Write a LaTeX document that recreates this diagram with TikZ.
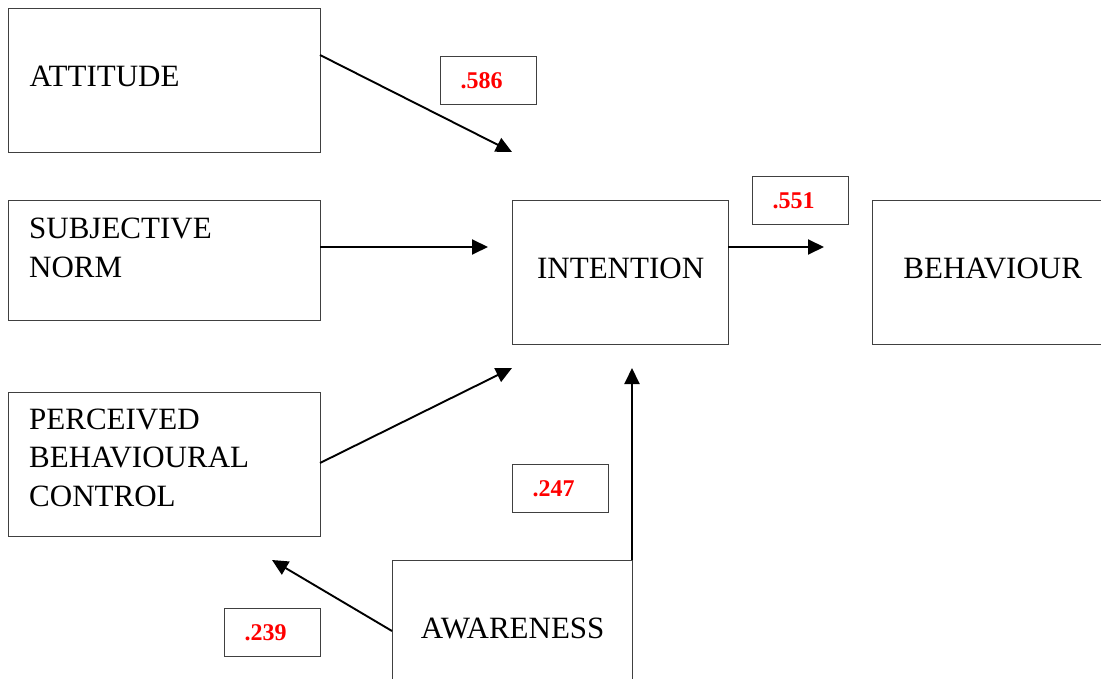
\documentclass[tikz,border=0pt]{standalone}
\usepackage{fontspec}
\setmainfont{Liberation Serif}
\usetikzlibrary{arrows.meta}
\begin{document}
\begin{tikzpicture}[x=1pt,y=-1pt,
  box/.style={draw=black!75, line width=1.3pt, inner sep=0pt, anchor=north west,
    font=\fontsize{31}{38.5}\selectfont},
  leftbox/.style={box, align=left, inner xsep=21pt, text width=270pt,
    minimum width=312pt},
  lbl/.style={inner sep=0pt, anchor=west, align=left,
    font=\fontsize{31}{38.5}\selectfont},
  coef/.style={draw=black!75, line width=1.1pt, anchor=north west, inner sep=0pt,
    minimum width=96pt, minimum height=48pt, text=red,
    font=\fontsize{24}{28}\selectfont\bfseries},
  link/.style={line width=1.9pt, -{Triangle[length=16pt,width=15pt]}}]
\useasboundingbox (0,0) rectangle (1101,679);
\clip (0,0) rectangle (1101,679);

% construct boxes (text depth lifts a one-line label inside its frame)
\node[leftbox, minimum height=144pt, text depth=8pt] (att) at (8,8) {ATTITUDE};
\node[box, minimum width=312pt, minimum height=120pt] (sn) at (8,200) {};
\node[lbl, xshift=21pt, yshift=13pt] (snt) at (sn.west) {SUBJECTIVE\\NORM};
\node[box, minimum width=312pt, minimum height=144pt] (pbc) at (8,392) {};
\node[lbl, xshift=21pt, yshift=7pt] (pbct) at (pbc.west) {PERCEIVED\\BEHAVIOURAL\\CONTROL};
\node[box, minimum width=216pt, minimum height=144pt, text depth=8pt] (int) at (512,200) {INTENTION};
\node[box, minimum width=240pt, minimum height=144pt, text depth=8pt] (beh) at (872,200) {BEHAVIOUR};
\node[box, minimum width=240pt, minimum height=136pt] (aw) at (392,560) {AWARENESS};

% path coefficients
\node[coef] (c586) at (440,56) {.586\kern14pt};
\node[coef] (c551) at (752,176) {.551\kern14pt};
\node[coef] (c247) at (512,464) {.247\kern14pt};
\node[coef] (c239) at (224,608) {.239\kern14pt};

% arrow end points
\coordinate (attout) at (320,55);
\coordinate (attin) at (512,152);
\coordinate (snout) at (320,247);
\coordinate (snin) at (488,247);
\coordinate (pbcout) at (320,463);
\coordinate (pbcin) at (512,368);
\coordinate (intout) at (728,247);
\coordinate (behin) at (824,247);
\coordinate (awup) at (632,560);
\coordinate (awupin) at (632,368);
\coordinate (awout) at (392,631);
\coordinate (awpbc) at (272,560);

% paths
\draw[link] (attout) -- (attin);
\draw[link] (snout) -- (snin);
\draw[link] (pbcout) -- (pbcin);
\draw[link] (intout) -- (behin);
\draw[link] (awup) -- (awupin);
\draw[link] (awout) -- (awpbc);
\end{tikzpicture}
\end{document}
